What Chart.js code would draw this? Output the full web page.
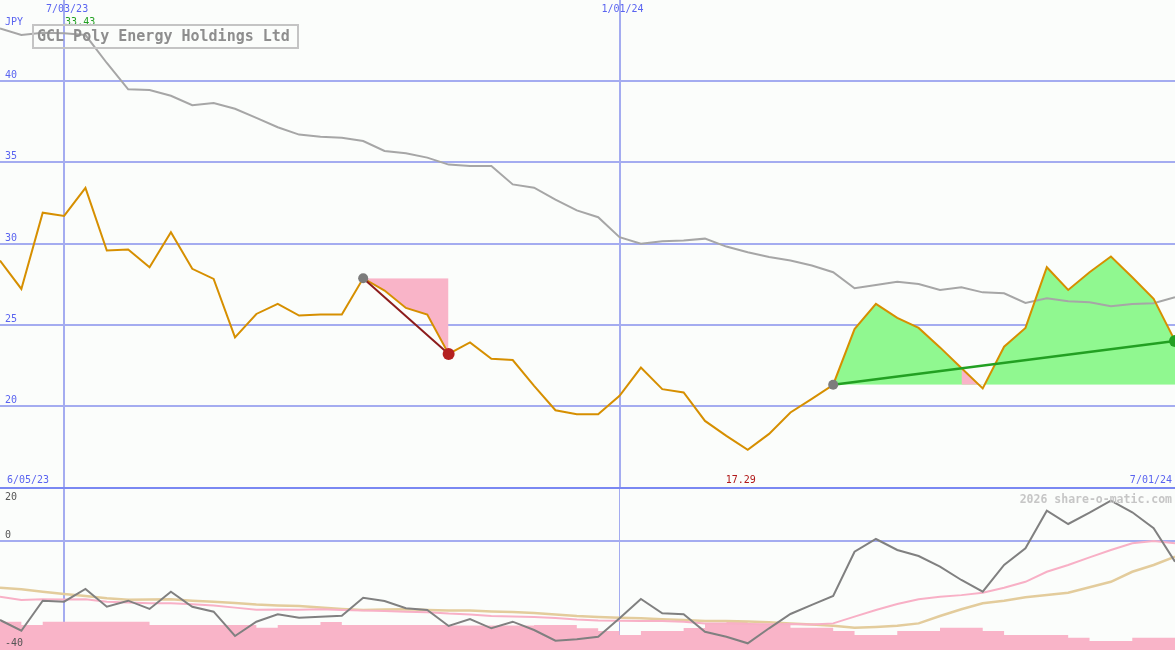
<!DOCTYPE html>
<html>
<head>
<meta charset="utf-8">
<script src="https://cdn.jsdelivr.net/npm/chart.js@4.4.1/dist/chart.umd.min.js"></script>
<style>
  html, body { margin: 0; padding: 0; background: #fbfdfb; }
  #wrap { position: relative; width: 1175px; height: 650px; overflow: hidden; background: #fbfdfb; }
  #priceChart { position: absolute; left: 0; top: 0; }
  #oscChart { position: absolute; left: 0; top: 487px; }
  #divider { position: absolute; left: 0; top: 487px; width: 1175px; height: 2px; background: #7a88f2; }
</style>
</head>
<body>
<div id="wrap">
  <canvas id="priceChart" width="1175" height="487"></canvas>
  <canvas id="oscChart" width="1175" height="163"></canvas>
  <div id="divider"></div>
</div>
<script>
// weekly closes, 12 Jun 2023 .. 1 Jul 2024
const dates = [
  "6/12/23", "6/19/23", "6/26/23", "7/03/23", "7/10/23", "7/17/23", "7/24/23", "7/31/23",
  "8/07/23", "8/14/23", "8/21/23", "8/28/23", "9/04/23", "9/11/23", "9/18/23", "9/25/23",
  "10/02/23", "10/09/23", "10/16/23", "10/23/23", "10/30/23", "11/06/23", "11/13/23", "11/20/23",
  "11/27/23", "12/04/23", "12/11/23", "12/18/23", "12/25/23", "1/01/24", "1/08/24", "1/15/24",
  "1/22/24", "1/29/24", "2/05/24", "2/12/24", "2/19/24", "2/26/24", "3/04/24", "3/11/24",
  "3/18/24", "3/25/24", "4/01/24", "4/08/24", "4/15/24", "4/22/24", "4/29/24", "5/06/24",
  "5/13/24", "5/20/24", "5/27/24", "6/03/24", "6/10/24", "6/17/24", "6/24/24", "7/01/24"
];

const price = [
  28.95, 27.2, 31.9, 31.7, 33.43, 29.57, 29.63, 28.54, 30.7, 28.44,
  27.82, 24.22, 25.66, 26.28, 25.56, 25.62, 25.62, 27.86, 27.1, 26.03,
  25.62, 23.2, 23.91, 22.9, 22.82, 21.23, 19.73, 19.48, 19.48, 20.62,
  22.36, 21.03, 20.82, 19.07, 18.15, 17.29, 18.27, 19.59, 20.43, 21.3,
  24.73, 26.28, 25.42, 24.8, 23.6, 22.33, 21.07, 23.64, 24.8, 28.54,
  27.14, 28.23, 29.2, 27.92, 26.59, 24.0
];

const movingAvg = [
  43.25, 42.84, 42.98, 42.95, 42.84, 41.12, 39.5, 39.45, 39.1, 38.52,
  38.65, 38.3, 37.74, 37.16, 36.71, 36.57, 36.51, 36.31, 35.7, 35.56,
  35.29, 34.86, 34.77, 34.77, 33.64, 33.44, 32.7, 32.04, 31.62, 30.39,
  29.98, 30.14, 30.19, 30.3, 29.81, 29.46, 29.17, 28.95, 28.64, 28.23,
  27.24, 27.45, 27.65, 27.51, 27.14, 27.3, 26.99, 26.93, 26.34, 26.62,
  26.44, 26.38, 26.13, 26.28, 26.32, 26.69
];

const oscillator = [
  -28.96, -32.9, -21.85, -22.2, -17.55, -24.06, -21.85, -24.9, -18.54, -24.06,
  -25.9, -34.85, -29.58, -26.86, -28.1, -27.74, -27.37, -20.75, -21.96, -24.65,
  -25.28, -31.17, -28.59, -32.01, -29.58, -32.64, -36.58, -36.06, -35.1, -28.33,
  -21.23, -26.49, -26.86, -33.27, -35.1, -37.53, -32.01, -26.75, -23.4, -20.12,
  -3.82, 0.86, -3.19, -5.4, -9.34, -14.23, -18.54, -8.71, -2.56, 11.28,
  6.38, 10.54, 14.96, 10.69, 4.8, -7.5
];

const signalPink = [
  -20.38, -21.6, -21.34, -21.4, -21.34, -22.22, -22.5, -22.8, -22.8, -23.2,
  -23.6, -24.4, -25.2, -25.1, -25.2, -25.0, -25.3, -25.5, -25.6, -25.9,
  -26.1, -26.6, -26.9, -27.5, -27.7, -27.85, -28.2, -28.8, -29.1, -29.2,
  -29.3, -29.3, -29.6, -30.2, -30.2, -30.4, -30.5, -30.4, -30.6, -30.2,
  -27.7, -25.3, -23.1, -21.3, -20.4, -19.8, -18.9, -17.1, -14.9, -11.2,
  -8.7, -5.9, -3.2, -0.7, 0.1, -0.7
];

const signalTan = [
  -17.07, -17.66, -18.54, -19.39, -20.12, -20.97, -21.5, -21.4, -21.34, -21.85,
  -22.2, -22.7, -23.25, -23.6, -23.8, -24.4, -24.9, -25.3, -25.1, -25.0,
  -25.3, -25.5, -25.5, -25.8, -26.0, -26.4, -26.9, -27.5, -27.85, -28.15,
  -28.33, -28.7, -29.0, -29.3, -29.3, -29.5, -29.8, -30.2, -30.6, -31.06,
  -31.8, -31.5, -31.06, -30.2, -27.5, -25.0, -22.8, -21.85, -20.6, -19.75,
  -18.9, -16.9, -14.9, -11.2, -8.7, -5.66
];

const histogram = [
  -29.6, -30.8, -29.6, -29.6, -29.6, -29.6, -29.6, -30.8, -30.8, -30.8,
  -30.8, -30.8, -31.8, -30.8, -30.8, -29.7, -30.8, -30.8, -30.8, -30.8,
  -30.8, -31.0, -31.0, -31.0, -31.0, -30.8, -30.8, -32.0, -33.0, -34.5,
  -33.0, -33.0, -31.9, -30.2, -29.7, -30.8, -30.8, -31.8, -31.8, -33.0,
  -34.5, -34.5, -33.0, -33.0, -31.8, -31.8, -33.0, -34.5, -34.5, -34.5,
  -35.5, -36.7, -36.7, -35.5, -35.5, -35.5
];

const priceTicks = [20, 25, 30, 35, 40];
const oscTicks = [20, 0, -40];
const markedDates = ["7/03/23", "1/01/24"];

// signal points: drop from 17 to 21, rise trend from 39 to 55
const dropFrom = 17, dropTo = 21;
const riseFrom = 39, riseTo = 55;
const pinkDip = [45, 46];

const title = "GCL Poly Energy Holdings Ltd";
const currency = "JPY";
const rangeStart = "6/05/23";
const watermark = "2026 share-o-matic.com";

const GRID = "#a4acf0";
const BLUE_TEXT = "#5a64f0";
const ORANGE = "#d68f00";
const GREEN_FILL = "#90f890";
const PINK_FILL = "#f9b4c8";
const NONE = "rgba(0,0,0,0)";
const MONO = "'DejaVu Sans Mono', 'Liberation Mono', monospace";

const markedIdx = markedDates.map(d => dates.indexOf(d));
const inRange = (a, b) => price.map((v, i) => (i >= a && i <= b ? v : null));
const onlyAt = (list) => price.map((v, i) => (list.includes(i) ? v : null));

const maxIdx = price.indexOf(Math.max(...price));
const minIdx = price.indexOf(Math.min(...price));

const upperText = {
  id: "upperText",
  afterDraw(chart) {
    const ctx = chart.ctx;
    const xs = chart.scales.x;
    const ys = chart.scales.y;
    ctx.save();
    ctx.font = "10px " + MONO;
    ctx.fillStyle = BLUE_TEXT;
    ctx.textAlign = "left";
    priceTicks.forEach(v => ctx.fillText(String(v), 5, ys.getPixelForValue(v) - 3));
    ctx.fillText(currency, 5, 25);
    ctx.fillText(rangeStart, 7, 483);
    ctx.textAlign = "center";
    markedIdx.forEach((i, k) => ctx.fillText(markedDates[k], xs.getPixelForValue(i) + 3, 12));
    ctx.textAlign = "right";
    ctx.fillText(dates[dates.length - 1], 1172, 483);

    ctx.textAlign = "left";
    ctx.fillStyle = "#22a022";
    ctx.fillText(price[maxIdx].toFixed(2), xs.getPixelForValue(3) + 1, 25);
    ctx.fillStyle = "#b01818";
    ctx.textAlign = "center";
    ctx.fillText(price[minIdx].toFixed(2), xs.getPixelForValue(minIdx) - 7, 483);

    ctx.strokeStyle = "#c4c4c4";
    ctx.lineWidth = 2;
    ctx.strokeRect(33, 25, 265, 23);
    ctx.font = "bold 15px " + MONO;
    ctx.fillStyle = "#8e8e8e";
    ctx.textAlign = "left";
    ctx.fillText(title, 37, 41);
    ctx.restore();
  }
};

const lowerText = {
  id: "lowerText",
  afterDraw(chart) {
    const ctx = chart.ctx;
    ctx.save();
    ctx.font = "10px " + MONO;
    ctx.fillStyle = "#555555";
    ctx.textAlign = "left";
    ctx.fillText(String(oscTicks[0]), 5, 13);
    ctx.fillText(String(oscTicks[1]), 5, 51);
    ctx.fillText(String(oscTicks[2]), 5, 159);
    ctx.font = "bold 11.5px " + MONO;
    ctx.fillStyle = "#c6c6c6";
    ctx.textAlign = "right";
    ctx.fillText(watermark, 1172, 16);
    ctx.restore();
  }
};

function xScale(widths) {
  return {
    type: "category",
    offset: false,
    ticks: { display: false },
    border: { display: false },
    grid: {
      drawTicks: false,
      color: (c) => (markedIdx.includes(c.index) ? GRID : NONE),
      lineWidth: (c) => {
        const k = markedIdx.indexOf(c.index);
        return k >= 0 ? widths[k] : 0;
      }
    }
  };
}

function drawPriceChart() {
  new Chart(document.getElementById("priceChart"), {
    type: "line",
    data: {
      labels: dates,
      datasets: [
        {
          label: "signals",
          data: onlyAt([dropFrom, dropTo, riseFrom, riseTo]),
          showLine: false,
          pointRadius: price.map((v, i) => (i === dropTo || i === riseTo ? 6 : 5)),
          pointBackgroundColor: price.map((v, i) =>
            i === dropTo ? "#b42020" : i === riseTo ? "#22a022" : "#7c7c7c"),
          pointBorderWidth: 0,
          order: 0
        },
        {
          label: "drop",
          data: onlyAt([dropFrom, dropTo]),
          spanGaps: true,
          borderColor: "#8c1c1c",
          borderWidth: 2,
          order: 1
        },
        {
          label: "rise",
          data: onlyAt([riseFrom, riseTo]),
          spanGaps: true,
          borderColor: "#22a022",
          borderWidth: 2.5,
          order: 1
        },
        {
          label: "price",
          data: price,
          borderColor: ORANGE,
          borderWidth: 2,
          order: 2
        },
        {
          label: "average",
          data: movingAvg,
          borderColor: "#a6a6a6",
          borderWidth: 2,
          order: 3
        },
        {
          label: "dip",
          data: onlyAt(pinkDip),
          borderWidth: 0,
          fill: { target: { value: price[riseFrom] }, above: PINK_FILL, below: NONE },
          order: 4
        },
        {
          label: "riseArea",
          data: inRange(riseFrom, riseTo),
          borderWidth: 0,
          fill: { target: { value: price[riseFrom] }, above: GREEN_FILL, below: NONE },
          order: 5
        },
        {
          label: "dropArea",
          data: inRange(dropFrom, dropTo),
          borderWidth: 0,
          fill: { target: { value: price[dropFrom] }, above: NONE, below: PINK_FILL },
          order: 5
        }
      ]
    },
    options: {
      responsive: false,
      animation: false,
      devicePixelRatio: 1,
      layout: { padding: 0, autoPadding: false },
      elements: { point: { radius: 0, hoverRadius: 0 }, line: { tension: 0 } },
      plugins: { legend: { display: false }, tooltip: { enabled: false } },
      scales: {
        x: xScale([2, 2]),
        y: {
          min: 15,
          max: 45,
          ticks: { display: false, stepSize: 5 },
          border: { display: false },
          grid: {
            drawTicks: false,
            lineWidth: 2,
            color: (c) => (c.tick && priceTicks.includes(c.tick.value) ? GRID : NONE)
          }
        }
      }
    },
    plugins: [upperText]
  });
}

function drawOscChart() {
  new Chart(document.getElementById("oscChart"), {
    type: "line",
    data: {
      labels: dates,
      datasets: [
        { label: "osc", data: oscillator, borderColor: "#808080", borderWidth: 2, order: 1 },
        { label: "pink", data: signalPink, borderColor: "#f8b0c6", borderWidth: 2, order: 2 },
        { label: "tan", data: signalTan, borderColor: "#e3cc9c", borderWidth: 2.5, order: 3 },
        {
          label: "hist",
          data: histogram,
          stepped: true,
          borderWidth: 0,
          backgroundColor: PINK_FILL,
          fill: "start",
          order: 4
        }
      ]
    },
    options: {
      responsive: false,
      animation: false,
      devicePixelRatio: 1,
      layout: { padding: 0, autoPadding: false },
      elements: { point: { radius: 0, hoverRadius: 0 }, line: { tension: 0 } },
      plugins: { legend: { display: false }, tooltip: { enabled: false } },
      scales: {
        x: xScale([2, 1]),
        y: {
          min: -40,
          max: 20,
          ticks: { display: false, stepSize: 20 },
          border: { display: false },
          grid: {
            drawTicks: false,
            lineWidth: 2,
            color: (c) => (c.tick && c.tick.value === 0 ? GRID : NONE)
          }
        }
      }
    },
    plugins: [lowerText]
  });
}

window.addEventListener("DOMContentLoaded", () => {
  drawPriceChart();
  drawOscChart();
});
</script>
</body>
</html>
